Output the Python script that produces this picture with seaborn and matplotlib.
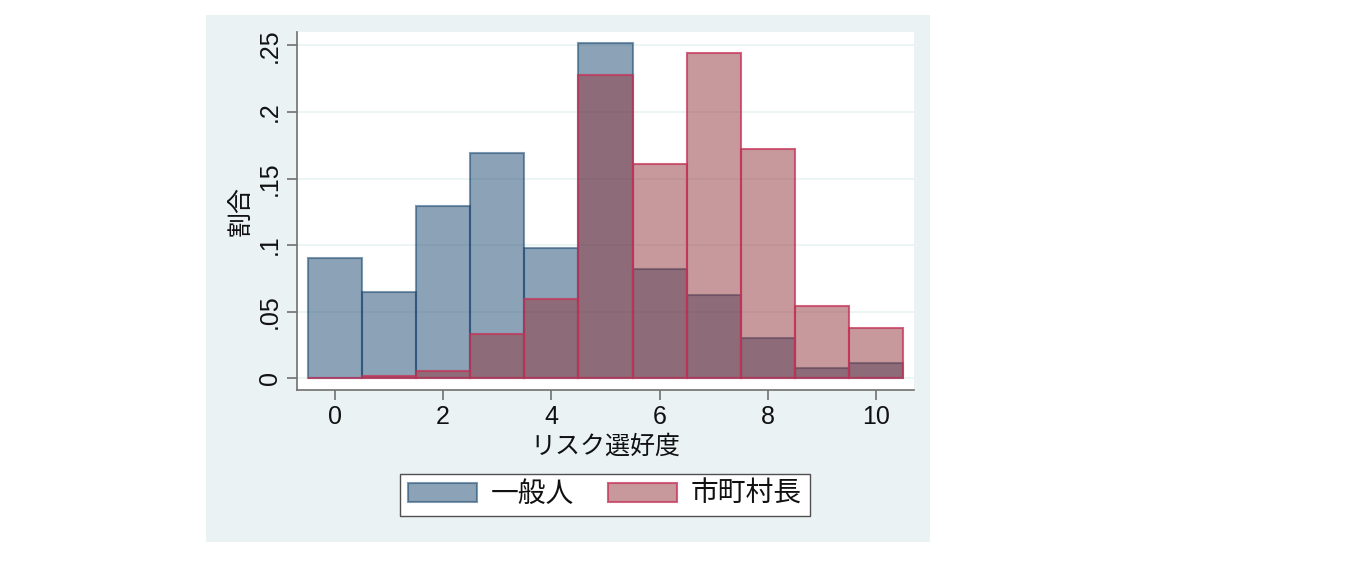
import matplotlib
matplotlib.use("Agg")
import matplotlib.pyplot as plt
from matplotlib.patches import Rectangle, Patch
import seaborn as sns
import numpy as np

# --- data ---
scores = [0, 1, 2, 3, 4, 5, 6, 7, 8, 9, 10]
general = [0.0904, 0.0645, 0.1297, 0.1689, 0.0979, 0.2517, 0.0821, 0.0627, 0.0306, 0.0080, 0.0113]
mayors = [0.0, 0.0017, 0.0057, 0.0331, 0.0597, 0.2276, 0.1611, 0.2440, 0.1724, 0.0544, 0.0381]
series_names = ["一般人", "市町村長"]
x_ticks = [0, 2, 4, 6, 8, 10]
y_ticks = [0, 0.05, 0.10, 0.15, 0.20, 0.25]
y_tick_labels = ["0", ".05", ".1", ".15", ".2", ".25"]
x_label = "リスク選好度"
y_label = "割合"

sns.set_theme(style="white")
plt.rcParams["font.family"] = ["Liberation Sans", "Noto Sans CJK JP", "DejaVu Sans"]
plt.rcParams["text.color"] = "#111111"
plt.rcParams["xtick.color"] = "#111111"
plt.rcParams["ytick.color"] = "#111111"
plt.rcParams["axes.labelcolor"] = "#111111"

navy = (26/255, 71/255, 111/255)
maroon = (144/255, 53/255, 59/255)
blue_face = (*navy, 0.5)
blue_edge = (*navy, 0.55)
red_face = (*maroon, 0.5)
red_edge = (196/255, 50/255, 88/255, 0.75)

fig = plt.figure(figsize=(13.47, 5.61), dpi=100)
fig.patch.set_facecolor("white")
bg = Rectangle((206/1347, 1 - 542/561), (930-206)/1347, (542-15)/561,
               transform=fig.transFigure, facecolor="#EAF2F3",
               edgecolor="none", zorder=-10)
fig.patches.append(bg)
ax = fig.add_axes([297/1347, 1 - 390/561, (914-297)/1347, (390-32)/561])
ax.set_zorder(1)
ax.set_facecolor("white")

sns.histplot(x=scores, weights=general, discrete=True, ax=ax,
             facecolor=blue_face, edgecolor=blue_edge, linewidth=1.5)
sns.histplot(x=scores, weights=mayors, discrete=True, ax=ax,
             facecolor=red_face, edgecolor=red_edge, linewidth=1.5)

ax.set_xlim(-0.7, 10.7)
ax.set_ylim(-0.0088, 0.26)
ax.set_xticks(x_ticks)
ax.set_xticklabels([str(t) for t in x_ticks], fontsize=18)
ax.set_yticks(y_ticks)
ax.set_yticklabels(y_tick_labels, fontsize=18, rotation=90, va="center")
ax.yaxis.grid(True, color="#EAF2F3", linewidth=1.2)
ax.set_axisbelow(True)
for s in ["top", "right"]:
    ax.spines[s].set_visible(False)
for s in ["left", "bottom"]:
    ax.spines[s].set_color("#707070")
    ax.spines[s].set_linewidth(1.2)
ax.tick_params(axis="both", which="major", direction="out", length=7, width=1.2,
               color="#707070", left=True, bottom=True, pad=4)

ax.set_xlabel(x_label, fontsize=18, labelpad=4)
ax.set_ylabel(y_label, fontsize=18, labelpad=4)

handles = [Patch(facecolor=blue_face, edgecolor=blue_edge, linewidth=1.5),
           Patch(facecolor=red_face, edgecolor=red_edge, linewidth=1.5)]
leg = fig.legend(handles, series_names, loc="center", ncol=2,
                 bbox_to_anchor=(605/1347, 1 - 495/561), fontsize=20,
                 frameon=True, fancybox=False, handlelength=2.5, handleheight=0.65,
                 columnspacing=1.2, handletextpad=0.5, borderpad=0.3)
leg.set_zorder(5)
leg.get_frame().set_facecolor("white")
leg.get_frame().set_alpha(1.0)
leg.get_frame().set_edgecolor("#505050")
leg.get_frame().set_linewidth(1.0)

fig.savefig("out.png", dpi=100, facecolor=fig.get_facecolor())
